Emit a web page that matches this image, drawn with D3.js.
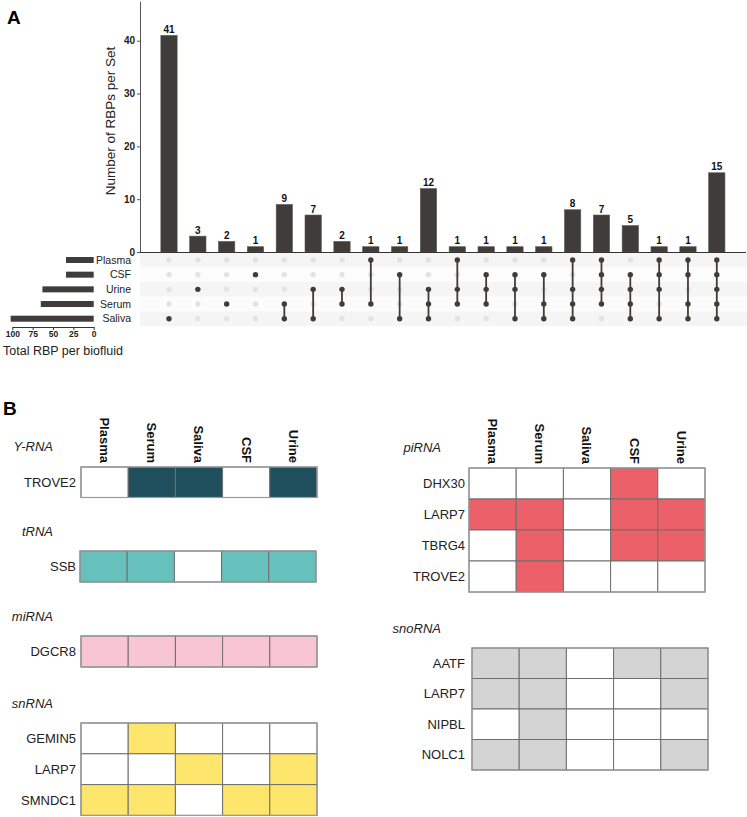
<!DOCTYPE html>
<html>
<head>
<meta charset="utf-8">
<script src="https://cdn.jsdelivr.net/npm/d3@7/dist/d3.min.js"></script>
<style>
body{margin:0;background:#fff;}
svg{display:block;font-family:Arial,"Liberation Sans",sans-serif;}
</style>
</head>
<body>
<svg id="chart" width="747" height="817"></svg>
<script>
// ---------- Panel A data (UpSet) ----------
const sets = ["Plasma","CSF","Urine","Serum","Saliva"];
const setSizes = [34,34,63,65,102];
const intersectionCounts = [41,3,2,1,9,7,2,1,1,12,1,1,1,1,8,7,5,1,1,15];
const intersectionMembers = [
  ["Saliva"],["Urine"],["Serum"],["CSF"],
  ["Serum","Saliva"],["Urine","Saliva"],["Urine","Serum"],["Plasma","Serum"],
  ["CSF","Saliva"],["Urine","Serum","Saliva"],["Plasma","Urine","Serum"],["CSF","Urine","Serum"],
  ["CSF","Urine","Saliva"],["CSF","Serum","Saliva"],["Plasma","Urine","Serum","Saliva"],
  ["Plasma","CSF","Urine","Serum"],["CSF","Urine","Serum","Saliva"],["Plasma","CSF","Urine","Saliva"],
  ["Plasma","CSF","Serum","Saliva"],["Plasma","CSF","Urine","Serum","Saliva"]
];
const yTicks = [0,10,20,30,40];
const setTicks = [100,75,50,25,0];

// ---------- Panel B data (heatmaps) ----------
const fluids = ["Plasma","Serum","Saliva","CSF","Urine"];
const yRnaGenes = ["TROVE2"];
const yRnaValues = [[0,1,1,0,1]];
const tRnaGenes = ["SSB"];
const tRnaValues = [[1,1,0,1,1]];
const miRnaGenes = ["DGCR8"];
const miRnaValues = [[1,1,1,1,1]];
const snRnaGenes = ["GEMIN5","LARP7","SMNDC1"];
const snRnaValues = [[0,1,0,0,0],[0,0,1,0,1],[1,1,0,1,1]];
const piRnaGenes = ["DHX30","LARP7","TBRG4","TROVE2"];
const piRnaValues = [[0,0,0,1,0],[1,1,0,1,1],[0,1,0,1,1],[0,1,0,0,0]];
const snoRnaGenes = ["AATF","LARP7","NIPBL","NOLC1"];
const snoRnaValues = [[1,1,0,1,1],[1,1,0,0,1],[0,1,0,0,0],[1,1,0,0,1]];

const svg = d3.select("#chart");
const dark = "#403c39";

// ================= Panel A =================
svg.append("text").attr("x",7).attr("y",24).attr("font-size",19).attr("font-weight","bold").text("A");

const ids = d3.range(intersectionCounts.length);
const x = d3.scalePoint().domain(ids).range([169, 716.8]);
const barW = 16.3;
const y = d3.scaleLinear().domain([0,47.5]).range([252,1.1]);
const rowY = d3.scalePoint().domain(sets).range([260, 318.7]);
const rowH = 14.67;

// stripes
svg.append("g").selectAll("rect").data(sets).join("rect")
  .attr("x",140).attr("width",607)
  .attr("y",d=>rowY(d)-rowH/2).attr("height",rowH)
  .attr("fill",(d,i)=> i%2===0 ? "#f5f5f5" : "#fcfcfc");

// bars
svg.append("g").selectAll("rect").data(ids).join("rect")
  .attr("x",i=>x(i)-barW/2).attr("width",barW)
  .attr("y",i=>y(intersectionCounts[i])).attr("height",i=>y(0)-y(intersectionCounts[i]))
  .attr("fill",dark).attr("stroke","#5a5754").attr("stroke-width",0.6);
svg.append("g").selectAll("text").data(ids).join("text")
  .attr("x",i=>x(i)).attr("y",i=>y(intersectionCounts[i])-2.5)
  .attr("text-anchor","middle").attr("font-size",10).attr("font-weight","bold").attr("fill","#111")
  .text(i=>intersectionCounts[i]);

// y axis
const yAxis = svg.append("g").attr("transform","translate(140,0)")
  .call(d3.axisLeft(y).tickValues(yTicks).tickSize(3).tickSizeOuter(0));
yAxis.select(".domain").attr("stroke","#555");
yAxis.selectAll(".tick line").attr("stroke","#555");
yAxis.selectAll("text").attr("font-size",10).attr("font-weight","bold").attr("fill","#222")
  .attr("font-family","Arial,'Liberation Sans',sans-serif").attr("dx",1);
svg.append("line").attr("x1",140).attr("x2",746).attr("y1",y(0)+0.5).attr("y2",y(0)+0.5)
  .attr("stroke","#333").attr("stroke-width",1.2);
svg.append("text").attr("transform","translate(115,121) rotate(-90)")
  .attr("text-anchor","middle").attr("font-size",13.5).attr("fill","#222")
  .text("Number of RBPs per Set");

// matrix dots
const dotR = 2.7;
const mat = svg.append("g");
ids.forEach(i=>{
  const mem = intersectionMembers[i];
  sets.forEach(s=>{
    if(!mem.includes(s)) mat.append("circle").attr("cx",x(i)).attr("cy",rowY(s)).attr("r",dotR).attr("fill","#e3e3e3");
  });
});
ids.forEach(i=>{
  const mem = intersectionMembers[i];
  const ys = mem.map(s=>rowY(s));
  if(ys.length>1){
    mat.append("line").attr("x1",x(i)).attr("x2",x(i))
      .attr("y1",d3.min(ys)).attr("y2",d3.max(ys))
      .attr("stroke",dark).attr("stroke-width",1.8);
  }
  mem.forEach(s=>{
    mat.append("circle").attr("cx",x(i)).attr("cy",rowY(s)).attr("r",dotR).attr("fill",dark);
  });
});

// set labels
svg.append("g").selectAll("text").data(sets).join("text")
  .attr("x",131).attr("y",d=>rowY(d)).attr("dy","0.35em")
  .attr("text-anchor","end").attr("font-size",10.5).attr("fill","#222").text(d=>d);

// set size bars
const xs = d3.scaleLinear().domain([0,100]).range([93.7,12.3]);
svg.append("g").selectAll("rect").data(sets).join("rect")
  .attr("x",(d,i)=>xs(setSizes[i])).attr("width",(d,i)=>xs(0)-xs(setSizes[i]))
  .attr("y",d=>rowY(d)-3).attr("height",6).attr("fill",dark);
const xsAxis = svg.append("g").attr("transform","translate(0,327)")
  .call(d3.axisBottom(xs).tickValues(setTicks).tickSize(3).tickSizeOuter(0));
xsAxis.select(".domain").attr("stroke","#333");
xsAxis.selectAll(".tick line").attr("stroke","#333");
xsAxis.selectAll("text").attr("font-size",8.5).attr("font-weight","bold").attr("fill","#222")
  .attr("font-family","Arial,'Liberation Sans',sans-serif").attr("dy","0.5em");
svg.append("text").attr("x",3).attr("y",355).attr("font-size",12.5).attr("fill","#222")
  .text("Total RBP per biofluid");

// ================= Panel B =================
svg.append("text").attr("x",3).attr("y",415).attr("font-size",19).attr("font-weight","bold").text("B");

function heatmap(opts){
  const {title, genes, values, color, left, top, titleX, titleY, labelX, cellH, headers} = opts;
  const g = svg.append("g");
  const cx = d3.scaleBand().domain(fluids).range([left, left+236]);
  const cy = d3.scaleBand().domain(genes).range([top, top+cellH*genes.length]);
  g.append("text").attr("x",titleX).attr("y",titleY).attr("dy","0.35em")
    .attr("text-anchor","end").attr("font-size",13).attr("font-style","italic").attr("fill","#222").text(title);
  genes.forEach((gn,r)=>{
    fluids.forEach((f,c)=>{
      g.append("rect").attr("x",cx(f)).attr("y",cy(gn))
        .attr("width",cx.bandwidth()).attr("height",cy.bandwidth())
        .attr("fill",values[r][c] ? color : "#ffffff")
        .attr("stroke","#6e6e6e").attr("stroke-width",1);
    });
    g.append("text").attr("x",labelX).attr("y",cy(gn)+cy.bandwidth()/2).attr("dy","0.35em")
      .attr("text-anchor","end").attr("font-size",13).attr("fill","#222").text(gn);
  });
  g.append("rect").attr("x",left).attr("y",top).attr("width",236).attr("height",cellH*genes.length)
    .attr("fill","none").attr("stroke","#9a9a9a").attr("stroke-width",1.2);
  if(headers){
    fluids.forEach(f=>{
      g.append("text").attr("transform",`translate(${cx(f)+cx.bandwidth()/2},${top-4}) rotate(90)`)
        .attr("text-anchor","end").attr("dy","0.35em").attr("font-size",13).attr("font-weight","bold")
        .attr("fill","#111").text(f);
    });
  }
}

heatmap({title:"Y-RNA",genes:yRnaGenes,values:yRnaValues,color:"#1f4f5c",left:81,top:467,titleX:53,titleY:446,labelX:76,cellH:30.5,headers:true});
heatmap({title:"tRNA",genes:tRnaGenes,values:tRnaValues,color:"#66c1bd",left:80,top:551,titleX:53,titleY:531,labelX:76,cellH:31,headers:false});
heatmap({title:"miRNA",genes:miRnaGenes,values:miRnaValues,color:"#f8c6d3",left:81,top:636,titleX:53,titleY:616,labelX:76,cellH:31,headers:false});
heatmap({title:"snRNA",genes:snRnaGenes,values:snRnaValues,color:"#fee56c",left:81,top:723,titleX:53,titleY:703,labelX:76,cellH:30.8,headers:false});
heatmap({title:"piRNA",genes:piRnaGenes,values:piRnaValues,color:"#ec6169",left:469,top:468,titleX:441,titleY:447,labelX:465,cellH:31,headers:true});
heatmap({title:"snoRNA",genes:snoRnaGenes,values:snoRnaValues,color:"#d5d4d5",left:472,top:648,titleX:441,titleY:628,labelX:465,cellH:30.5,headers:false});
</script>
</body>
</html>
